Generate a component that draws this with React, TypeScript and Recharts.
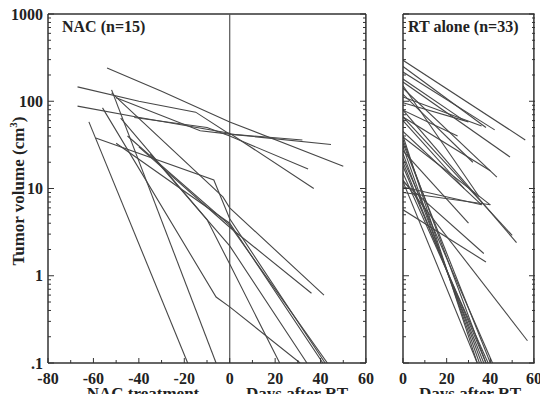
import { LineChart, Line, XAxis, YAxis, ReferenceLine } from "recharts"

// log axis ticks
const yMajor = [0.1, 1, 10, 100, 1000]
const yMinor = [
  0.2, 0.3, 0.4, 0.5, 0.6, 0.7, 0.8, 0.9,
  2, 3, 4, 5, 6, 7, 8, 9,
  20, 30, 40, 50, 60, 70, 80, 90,
  200, 300, 400, 500, 600, 700, 800, 900,
]
const nacXTicks = [-80, -60, -40, -20, 0, 20, 40, 60]
const nacXMinor = [-70, -50, -30, -10, 10, 30, 50]
const rtXTicks = [0, 20, 40, 60]
const rtXMinor = [10, 30, 50]

// NAC (n=15): [day, volume] per patient
const nacSeries = [
  [[-54, 240], [-30, 130], [0, 58], [50, 18]],
  [[-67, 146], [-40, 100], [-15, 75], [0, 42], [44.6, 32]],
  [[-67, 88], [-41, 66], [0, 43], [37, 10]],
  [[-42, 65], [-10, 50], [0, 40], [34.5, 16.7]],
  [[-50, 110], [-13, 46], [0, 42], [32, 36]],
  [[-62, 58], [-18.5, 0.1]],
  [[-52, 135], [-6, 0.1]],
  [[-56, 84], [-6, 0.57], [0, 0.44], [31, 0.1]],
  [[-48, 64], [-10, 4.4], [0, 1.36], [22, 0.1]],
  [[-59, 38], [-7, 12.5], [0, 4.5], [42, 0.1]],
  [[-50, 33], [0, 4], [41, 0.1]],
  [[-45, 40], [0, 3.8], [43, 0.1]],
  [[-35, 25], [0, 2.2], [34, 0.1]],
  [[-52, 125], [-3, 8], [0, 6], [41.5, 0.6]],
  [[-40, 30], [0, 3.6], [36, 0.63]],
]

// RT alone (n=33)
const rtSeries = [
  [[0, 295], [56, 36]],
  [[0, 216], [42, 47]],
  [[0, 166], [49, 23]],
  [[0, 141], [43, 13.5]],
  [[0, 112], [36, 52]],
  [[0, 96], [30, 58]],
  [[0, 250], [38, 50]],
  [[0, 180], [28, 60]],
  [[0, 79], [25, 40]],
  [[0, 66], [40, 16]],
  [[0, 120], [32, 20]],
  [[0, 79], [52, 2.4]],
  [[0, 66], [50, 2.9]],
  [[0, 45], [36, 6.5]],
  [[0, 39], [40, 6.5]],
  [[0, 12], [37, 1.8]],
  [[0, 5.7], [38, 1.44]],
  [[0, 12.5], [57, 0.18]],
  [[0, 10.4], [36, 6.5]],
  [[0, 9], [40, 6.5]],
  [[0, 27], [30, 4]],
  [[0, 40], [34, 0.1]],
  [[0, 30], [35, 0.1]],
  [[0, 25], [36, 0.1]],
  [[0, 20], [37, 0.1]],
  [[0, 18], [38, 0.1]],
  [[0, 15], [39, 0.1]],
  [[0, 33], [40, 0.1]],
  [[0, 12], [34, 0.1]],
  [[0, 22], [41, 0.1]],
  [[0, 36], [38, 0.1]],
  [[0, 60], [28, 10]],
  [[0, 150], [35, 8]],
]

const serif = "'Liberation Serif', 'Times New Roman', serif"
const ink = "#333"
const lineColor = "#474747"
const toPts = (s: number[][]) => s.map(([t, v]) => ({ t, v }))
const fmtY = (v: number) => (v === 0.1 ? ".1" : String(v))
const yAll = [...yMajor, ...yMinor].sort((a, b) => a - b)

// y tick: inward marks on both edges of the frame, label only on majors
function makeYTick(margin: number, plotW: number, labels: boolean) {
  return (props: any) => {
    const { x, y, payload } = props
    const v = payload.value
    const major = yMajor.includes(v)
    const len = major ? 6 : 3
    const ax = x + margin
    return (
      <g>
        <line x1={ax} x2={ax + len} y1={y} y2={y} stroke={ink} strokeWidth={1} />
        <line x1={ax + plotW} x2={ax + plotW - len} y1={y} y2={y} stroke={ink} strokeWidth={1} />
        {labels && major && (
          <text x={x} y={y} dy="0.35em" textAnchor="end" fontFamily={serif} fontWeight="bold" fontSize={16} fill="#222">
            {fmtY(v)}
          </text>
        )}
      </g>
    )
  }
}

function makeXTick(margin: number, labelled: number[]) {
  return (props: any) => {
    const { x, y, payload } = props
    const v = payload.value
    const major = labelled.includes(v)
    const ay = y - margin
    return (
      <g>
        <line x1={x} x2={x} y1={ay} y2={ay - (major ? 5 : 3)} stroke={ink} strokeWidth={1} />
        {major && (
          <text x={x} y={y} dy="0.71em" textAnchor="middle" fontFamily={serif} fontWeight="bold" fontSize={16} fill="#222">
            {v}
          </text>
        )}
      </g>
    )
  }
}

export default function App() {
  const label = { position: "absolute" as const, fontFamily: serif, fontWeight: "bold" as const, color: "#222", whiteSpace: "nowrap" as const }
  return (
    <div style={{ position: "absolute", left: 0, top: 0, width: 540, height: 394, background: "#fff", overflow: "hidden" }}>
      <div style={{ position: "absolute", left: 0, top: 0 }}>
        <LineChart width={380} height={394} margin={{ top: 14, right: 14, bottom: 0, left: 8 }}>
          <XAxis xAxisId="b" dataKey="t" type="number" domain={[-80, 60]} ticks={[...nacXTicks, ...nacXMinor].sort((a, b) => a - b)}
            height={31} tickLine={false} tickSize={0} tickMargin={10} interval={0}
            axisLine={{ stroke: ink, strokeWidth: 1.5 }} tick={makeXTick(10, nacXTicks)} allowDataOverflow />
          <YAxis yAxisId="l" type="number" scale="log" domain={[0.1, 1000]} ticks={yAll} width={40} interval={0}
            tickLine={false} tickSize={0} tickMargin={5} axisLine={{ stroke: ink, strokeWidth: 1.5 }}
            tick={makeYTick(5, 318, true)} allowDataOverflow />
          <ReferenceLine xAxisId="b" yAxisId="l" y={999} stroke={ink} strokeWidth={1.5} />
          <ReferenceLine xAxisId="b" yAxisId="l" x={59.95} stroke={ink} strokeWidth={1.5} />
          <ReferenceLine xAxisId="b" yAxisId="l" x={0} stroke="#555" strokeWidth={1.2} />
          {nacSeries.map((s, i) => (
            <Line key={i} xAxisId="b" yAxisId="l" data={toPts(s)} dataKey="v" type="linear"
              stroke={lineColor} strokeWidth={1.1} dot={false} isAnimationActive={false} />
          ))}
        </LineChart>
      </div>
      <div style={{ position: "absolute", left: 380, top: 0 }}>
        <LineChart width={160} height={394} margin={{ top: 14, right: 6, bottom: 0, left: 22 }}>
          <XAxis xAxisId="b" dataKey="t" type="number" domain={[0, 60]} ticks={[...rtXTicks, ...rtXMinor].sort((a, b) => a - b)}
            height={31} tickLine={false} tickSize={0} tickMargin={10} interval={0}
            axisLine={{ stroke: ink, strokeWidth: 1.5 }} tick={makeXTick(10, rtXTicks)} allowDataOverflow />
          <YAxis yAxisId="l" type="number" scale="log" domain={[0.1, 1000]} ticks={yAll} width={1} interval={0}
            tickLine={false} tickSize={0} tickMargin={0} axisLine={{ stroke: ink, strokeWidth: 1.5 }}
            tick={makeYTick(0, 132, false)} allowDataOverflow />
          <ReferenceLine xAxisId="b" yAxisId="l" y={999} stroke={ink} strokeWidth={1.5} />
          <ReferenceLine xAxisId="b" yAxisId="l" x={59.95} stroke={ink} strokeWidth={1.5} />
          {rtSeries.map((s, i) => (
            <Line key={i} xAxisId="b" yAxisId="l" data={toPts(s)} dataKey="v" type="linear"
              stroke={lineColor} strokeWidth={1.1} dot={false} isAnimationActive={false} />
          ))}
        </LineChart>
      </div>
      <div style={{ ...label, left: 62, top: 18, fontSize: 16 }}>NAC (n=15)</div>
      <div style={{ ...label, left: 408, top: 18, fontSize: 16 }}>RT alone (n=33)</div>
      <div style={{ ...label, left: 18, top: 191, fontSize: 17, transform: "translate(-50%, -50%) rotate(-90deg)" }}>
        Tumor volume (cm<sup style={{ fontSize: 11 }}>3</sup>)
      </div>
      <div style={{ ...label, left: 143, top: 384, fontSize: 17, transform: "translateX(-50%)" }}>NAC treatment</div>
      <div style={{ ...label, left: 297, top: 384, fontSize: 17, transform: "translateX(-50%)" }}>Days after RT</div>
      <div style={{ ...label, left: 470, top: 384, fontSize: 17, transform: "translateX(-50%)" }}>Days after RT</div>
    </div>
  )
}
